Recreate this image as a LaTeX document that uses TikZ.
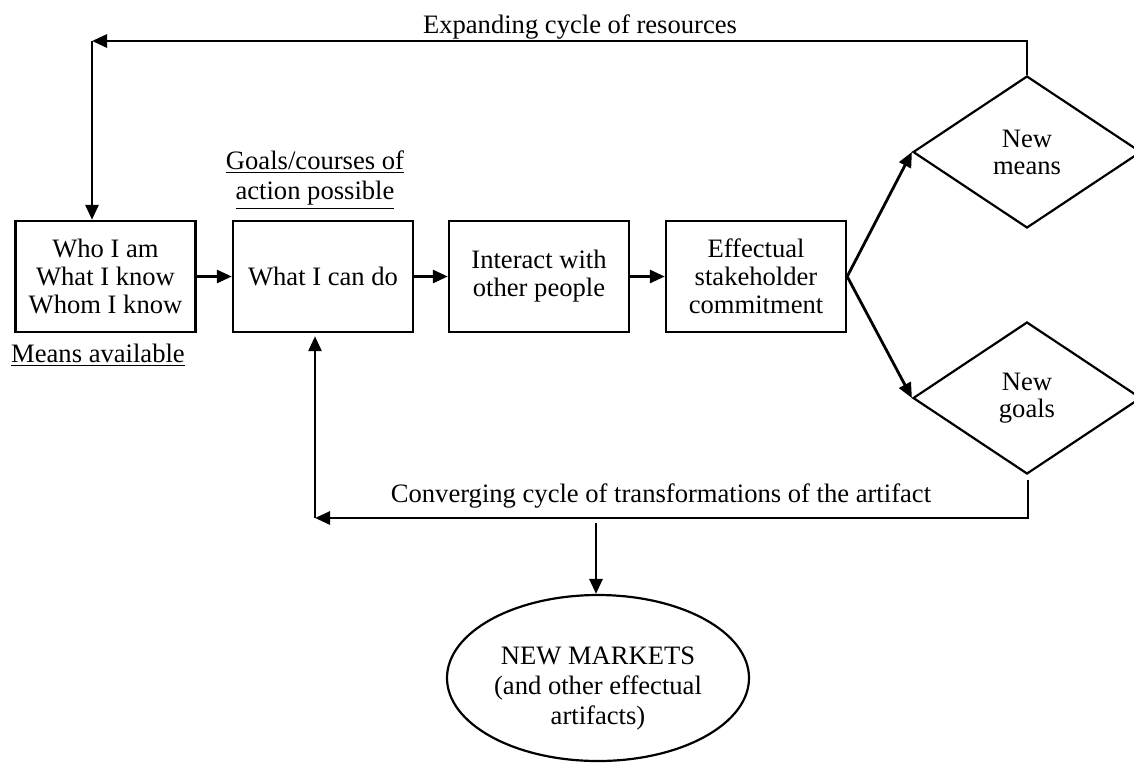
\documentclass[tikz,border=0pt]{standalone}
\usepackage{fontspec}
\setmainfont{Liberation Serif}
\usetikzlibrary{arrows.meta,shapes.geometric}
\begin{document}
\begin{tikzpicture}[x=0.5pt,y=-0.5pt,
  box/.style={draw,line width=1.2pt,minimum width=90pt,minimum height=55.5pt,inner sep=0pt,align=center,font=\fontsize{13.3}{14}\selectfont},
  dia/.style={diamond,draw,line width=1.1pt,minimum width=114pt,minimum height=76pt,inner sep=0pt,align=center,font=\fontsize{13.3}{13.5}\selectfont},
  oval/.style={ellipse,draw,line width=1.1pt,minimum width=151pt,minimum height=83pt,inner sep=0pt},
  arr/.style={line width=1.4pt,-{Triangle[length=7.5pt,width=6.5pt]}},
  lbl/.style={font=\fontsize{13.3}{15}\selectfont,align=center,inner sep=0pt}]
\useasboundingbox (0,0) rectangle (1134,762);
% boxes
\node[box] (b1) at (105.5,276.5) {Who I am\\What I know\\Whom I know};
\node[box] (b2) at (323,276.5) {What I can do};
\node[box] (b3) at (539,276.5) {Interact with\\other people};
\node[box] (b4) at (756,276.5) {Effectual\\stakeholder\\commitment};
% diamonds
\node[dia] (mn) at (1027,152) {New\\means};
\node[dia] (ng) at (1027,398) {New\\goals};
% ellipse
\node[oval,label={[lbl,yshift=-5.5pt]center:{NEW MARKETS\\(and other effectual\\artifacts)}}] (nm) at (598,678) {};
% labels
\node[lbl] (goals) at (315,180) {\underline{Goals/courses of}\\\underline{action possible}};
\node[lbl] (means) at (98,355) {\underline{Means available}};
\node[lbl,anchor=base] (exp) at (580,33) {Expanding cycle of resources};
\node[lbl,anchor=base] (conv) at (661,502) {Converging cycle of transformations of the artifact};
% coordinates
\coordinate (tr) at (1027,41);
\coordinate (tc) at (92,41);
\coordinate (bs) at (1028,480);
\coordinate (br) at (1028,518);
\coordinate (bl) at (315,518);
\coordinate (md) at (596,523);
% connectors
\draw[arr] (b1) -- (b2);
\draw[arr] (b2) -- (b3);
\draw[arr] (b3) -- (b4);
\draw[arr] (b4.east) -- (mn.west);
\draw[arr] (b4.east) -- (ng.west);
\draw[arr] (mn.north) -- (tr) -- (tc);
\draw[arr] (tc) -- (tc |- b1.north);
\draw[arr] (bs) -- (br) -- (bl);
\draw[arr] (bl) -- ([yshift=-1.5pt]bl |- b2.south);
\draw[arr] (md) -- (md |- nm.north);
\end{tikzpicture}
\end{document}
